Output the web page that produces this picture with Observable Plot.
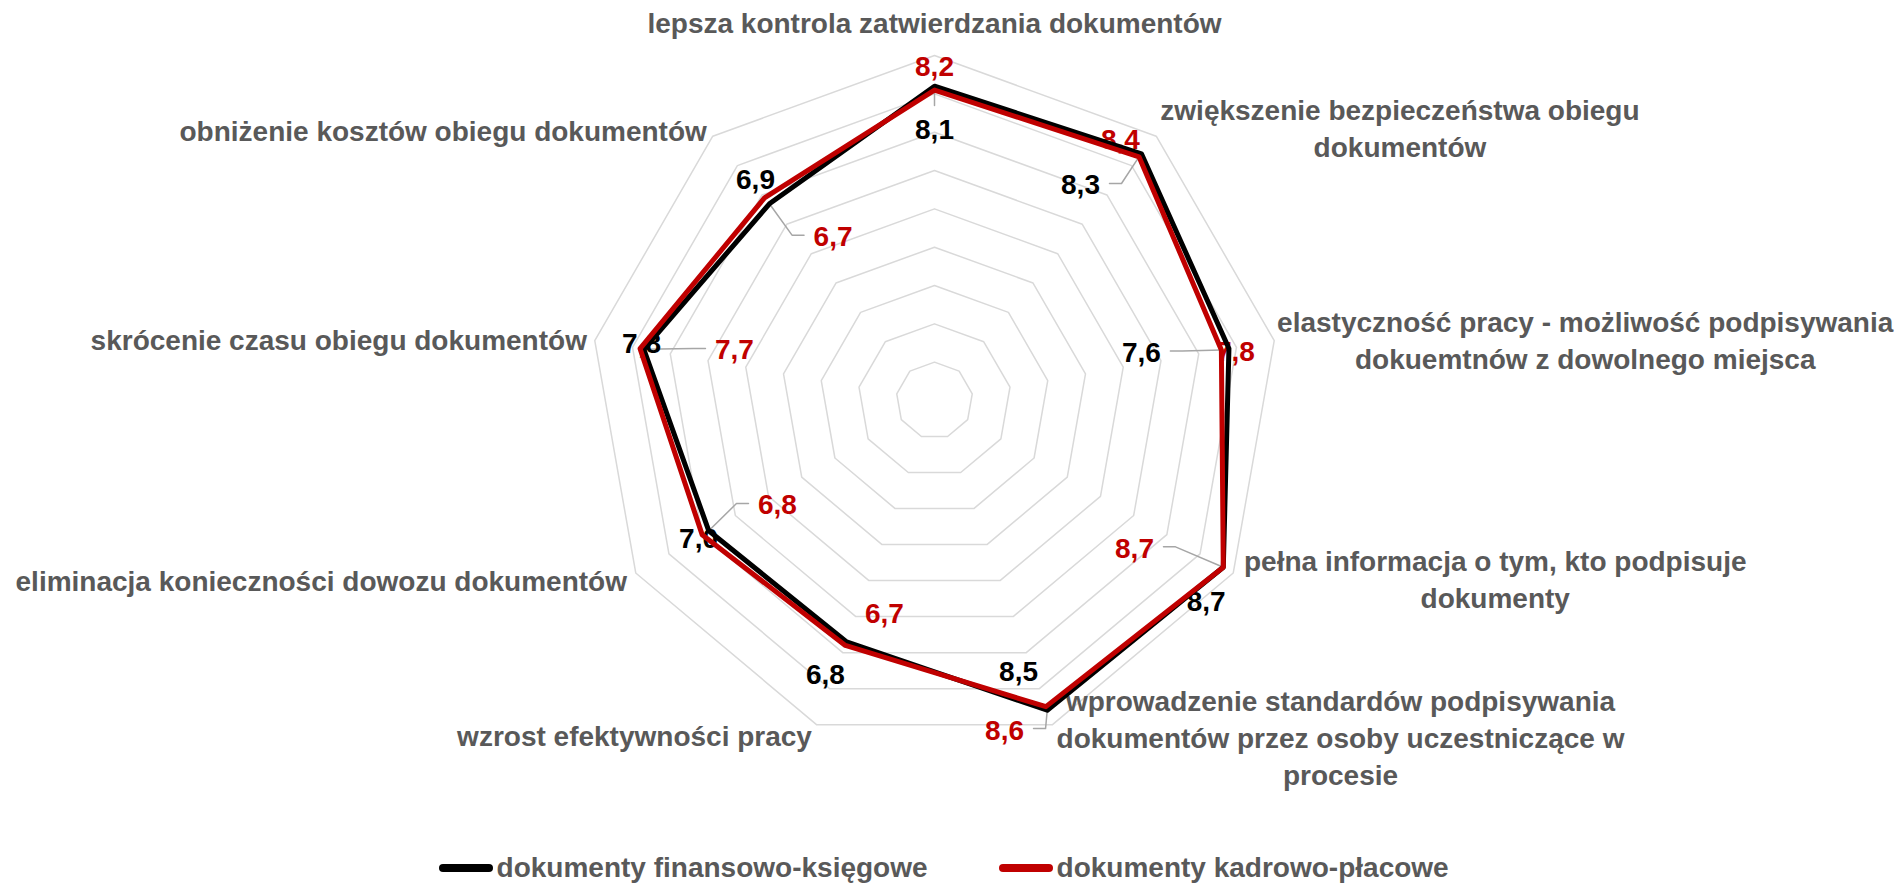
<!DOCTYPE html>
<html>
<head>
<meta charset="utf-8">
<script src="https://cdn.jsdelivr.net/npm/d3@7"></script>
<script src="https://cdn.jsdelivr.net/npm/@observablehq/plot@0.6"></script>
<style>
  html, body { margin: 0; padding: 0; background: #ffffff; }
  #wrap { position: relative; width: 1898px; height: 885px; overflow: hidden; }
  #chart { position: absolute; left: 0; top: 0; }
  #legend { position: absolute; left: 0; top: 848px; width: 1898px; height: 40px;
    font-family: 'Liberation Sans', Arial, sans-serif;
    font-weight: bold; font-size: 28px; color: #595959; }
  .item { position: absolute; top: 0; height: 40px; display: flex; align-items: center; white-space: nowrap; }
  .sw { width: 54px; height: 8px; border-radius: 4px; margin-right: 4px; }
</style>
</head>
<body>
<div id="wrap">
  <div id="chart"></div>
  <div id="legend"></div>
</div>
<script>
// ---------------- data ----------------
const categories = [
  "lepsza kontrola zatwierdzania dokumentów",
  "zwiększenie bezpieczeństwa obiegu\ndokumentów",
  "elastyczność pracy - możliwość podpisywania\ndokuemtnów z dowolnego miejsca",
  "pełna informacja o tym, kto podpisuje\ndokumenty",
  "wprowadzenie standardów podpisywania\ndokumentów przez osoby uczestniczące w\nprocesie",
  "wzrost efektywności pracy",
  "eliminacja konieczności dowozu dokumentów",
  "skrócenie czasu obiegu dokumentów",
  "obniżenie kosztów obiegu dokumentów"
];
const seriesNames = ["dokumenty finansowo-księgowe", "dokumenty kadrowo-płacowe"];
// values as drawn by the black line (labelled in red in the source)
const finansowoKsiegowe = [8.2, 8.4, 7.8, 8.7, 8.6, 6.7, 6.8, 7.7, 6.7];
// values as drawn by the red line (labelled in black in the source)
const kadrowoPlacowe = [8.1, 8.3, 7.6, 8.7, 8.5, 6.8, 7.0, 7.8, 6.9];
const ringTicks = [1, 2, 3, 4, 5, 6, 7, 8, 9];
const seriesColors = ["#000000", "#C00000"];

// ---------------- layout ----------------
const W = 1898, H = 830;
const CX = 934, CY = 400;      // centre of the radar in px
const U = 38.33;               // px per value unit
const RMAX = 9;
// category label offsets (px) from outer ring vertex
const catOffsets = [[0,-34],[243.7,-10],[311,-2.3],[262,5],[288,11.5],[-182,9.4],[-314.5,6],[-256,-2],[-269.6,-7.4]];
// red labels (values of black line) offsets from black-line vertex
const redLabelOffsets = [[0,-18.7],[-21,-13.7],[6.5,3.9],[-88.8,-18.4],[-42.7,20.3],[37.8,-28],[68.7,-25.3],[90.6,1.2],[63.6,33.4]];
const redLeaders = [false,false,false,true,true,false,true,true,true];
// black labels (values of red line) offsets from red-line vertex
const blackLabelOffsets = [[0,40.5],[-58.5,28.7],[-80,3],[-17.2,34.3],[-27.4,-34.4],[-19.9,30.1],[-3.6,4.1],[1.5,-4.8],[-9,-17.4]];
const blackLeaders = [true,true,true,false,false,false,false,false,false];

const FONT = "'Liberation Sans', Arial, sans-serif";
const n = categories.length;
const ang = i => i * 2 * Math.PI / n;
const polar = (v, i) => ({x: v * Math.sin(ang(i)), y: v * Math.cos(ang(i))});
const fmt = v => v.toFixed(1).replace(".", ",");

const rings = ringTicks.flatMap(t => categories.map((c, i) => ({ring: t, ...polar(t, i)})));
const lineBlack = finansowoKsiegowe.map((v, i) => polar(v, i));
const lineRed = kadrowoPlacowe.map((v, i) => polar(v, i));

const catLabels = categories.map((c, i) => {
  const p = polar(RMAX, i);
  return {text: c, x: p.x + catOffsets[i][0] / U, y: p.y - catOffsets[i][1] / U};
});

function makeLabels(values, offsets) {
  return values.map((v, i) => {
    const p = polar(v, i);
    return {text: fmt(v), vx: p.x, vy: p.y, x: p.x + offsets[i][0] / U, y: p.y - offsets[i][1] / U};
  });
}
const redLabels = makeLabels(finansowoKsiegowe, redLabelOffsets);
const blackLabels = makeLabels(kadrowoPlacowe, blackLabelOffsets);

function makeLeaders(labels, flags, prefix) {
  const out = [];
  labels.forEach((l, i) => {
    if (!flags[i]) return;
    const id = prefix + i;
    const dxPx = (l.vx - l.x) * U;
    if (Math.abs(dxPx) < 20) {
      const s = Math.sign(l.vy - l.y);
      out.push({id, x: l.x, y: l.y + s * 25 / U});
    } else {
      const s = Math.sign(dxPx);
      const sx = l.x + s * 29 / U, yy = l.y + 2 / U;
      out.push({id, x: sx, y: yy});
      out.push({id, x: sx + s * 12 / U, y: yy});
    }
    out.push({id, x: l.vx, y: l.vy});
  });
  return out;
}
const leaders = [...makeLeaders(redLabels, redLeaders, "r"), ...makeLeaders(blackLabels, blackLeaders, "b")];

const chart = Plot.plot({
  width: W, height: H, margin: 0,
  style: {background: "#ffffff", fontFamily: FONT},
  x: {domain: [-CX / U, (W - CX) / U], axis: null},
  y: {domain: [-(H - CY) / U, CY / U], axis: null},
  marks: [
    Plot.line(rings, {x: "x", y: "y", z: "ring", curve: "linear-closed", stroke: "#d9d9d9", strokeWidth: 1.5}),
    Plot.line(leaders, {x: "x", y: "y", z: "id", stroke: "#a6a6a6", strokeWidth: 1.5}),
    Plot.text(catLabels, {x: "x", y: "y", text: "text", fill: "#595959", fontSize: 28, fontWeight: "bold",
      textAnchor: "middle", lineAnchor: "middle", lineHeight: 1.32, ariaLabel: "category-labels"}),
    Plot.text(blackLabels, {x: "x", y: "y", text: "text", fill: "#000000", fontSize: 28, fontWeight: "bold",
      textAnchor: "middle", lineAnchor: "middle"}),
    Plot.text(redLabels, {x: "x", y: "y", text: "text", fill: "#C00000", fontSize: 28, fontWeight: "bold",
      textAnchor: "middle", lineAnchor: "middle"}),
    Plot.line(lineBlack, {x: "x", y: "y", curve: "linear-closed", stroke: seriesColors[0], strokeWidth: 5, strokeLinejoin: "round"}),
    Plot.line(lineRed, {x: "x", y: "y", curve: "linear-closed", stroke: seriesColors[1], strokeWidth: 5, strokeLinejoin: "round"})
  ]
});
document.getElementById("chart").appendChild(chart);

// calibrate letter spacing of category text to reference width of top label (578px)
let ls = 0;
const g = chart.querySelector('g[aria-label="category-labels"]');
if (g) {
  const t0 = g.querySelector("text");
  const w0 = t0.getComputedTextLength();
  ls = Math.max(-1.5, Math.min(2, (578 - w0) / categories[0].length));
  g.style.letterSpacing = ls + "px";
}

// legend
const legend = document.getElementById("legend");
const lefts = [438.6, 998.6];
seriesNames.forEach((name, i) => {
  const it = document.createElement("div");
  it.className = "item";
  it.style.left = lefts[i] + "px";
  it.style.letterSpacing = ls + "px";
  const sw = document.createElement("div");
  sw.className = "sw";
  sw.style.background = seriesColors[i];
  const tx = document.createElement("span");
  tx.textContent = name;
  it.appendChild(sw);
  it.appendChild(tx);
  legend.appendChild(it);
});
</script>
</body>
</html>
